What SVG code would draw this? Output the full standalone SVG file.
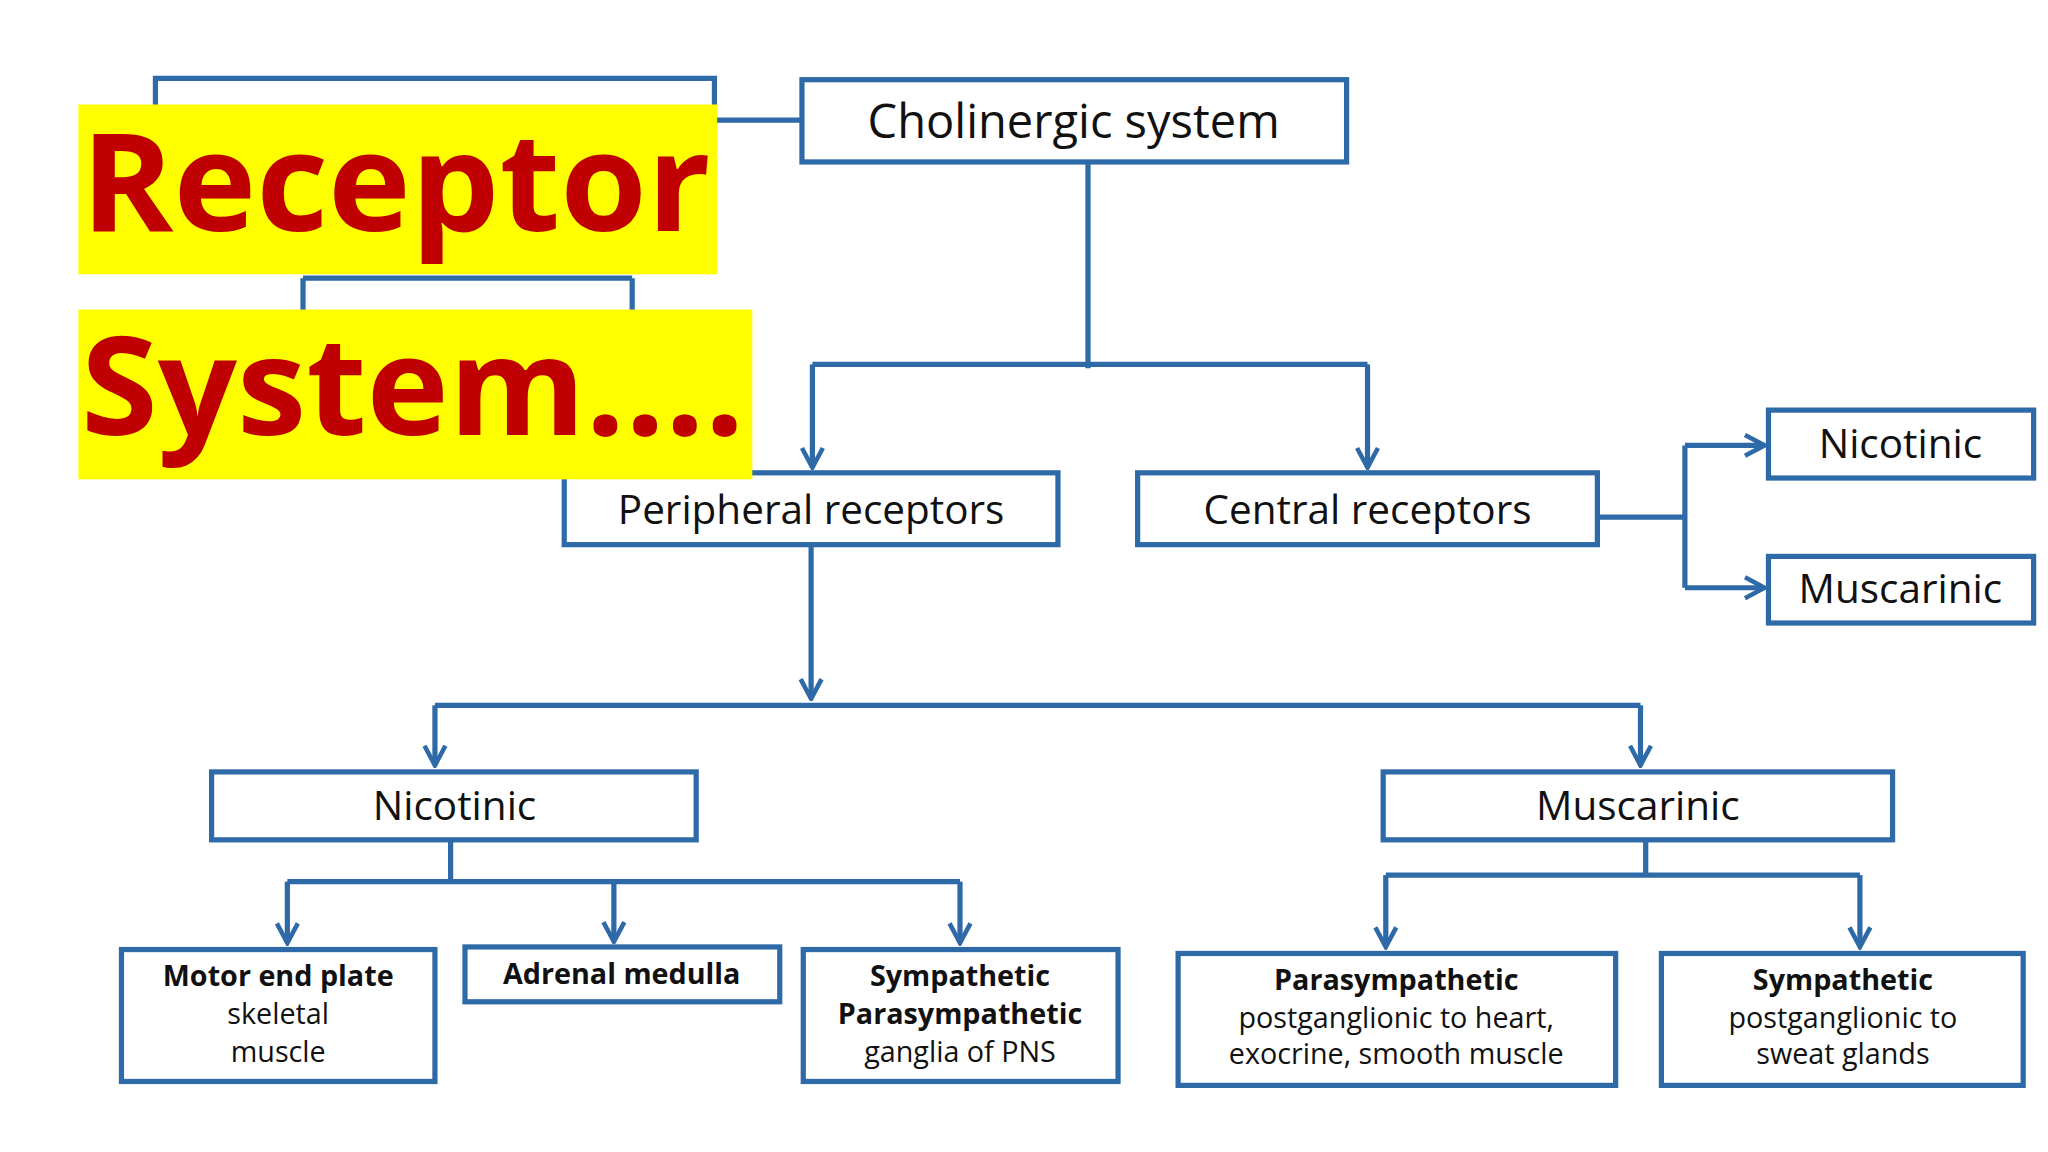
<svg xmlns="http://www.w3.org/2000/svg" width="2048" height="1152" viewBox="0 0 2048 1152">
<defs>
<style>
.b{fill:#fff;stroke:#2f6aa8;stroke-width:4}
.c{fill:none;stroke:#2f6aa8;stroke-width:4}
.t{font-family:"Open Sans","Liberation Sans",sans-serif;fill:#111;text-anchor:middle}
.l{font-size:36px}.m{font-size:31px}.s{font-size:22px}.bd{font-weight:bold}
.ti{font-family:"Open Sans","Noto Sans",sans-serif;font-weight:bold;font-size:104px;fill:#c00000}
</style>
<marker id="a" viewBox="0 0 20 20" refX="18" refY="10" markerWidth="20" markerHeight="20" markerUnits="userSpaceOnUse" orient="auto"><path d="M3,2 L18,10 L3,18" fill="none" stroke="#2f6aa8" stroke-width="3.5"/></marker>
</defs>
<rect width="2048" height="1152" fill="#fff"/>
<g transform="scale(1.30612)">
<g id="connectors">
<path class="c" d="M547,92H614"/>
<path class="c" d="M232,213H484M232,213V238M484,213V238"/>
<path class="c" d="M833,124V282M622,279H1047"/>
<path class="c" d="M622,279V358" marker-end="url(#a)"/>
<path class="c" d="M1047,279V358" marker-end="url(#a)"/>
<path class="c" d="M1223,396H1290M1290,341V450"/>
<path class="c" d="M1290,341H1351" marker-end="url(#a)"/>
<path class="c" d="M1290,450H1351" marker-end="url(#a)"/>
<path class="c" d="M621,417V535" marker-end="url(#a)"/>
<path class="c" d="M333,540H1256"/>
<path class="c" d="M333,540V586" marker-end="url(#a)"/>
<path class="c" d="M1256,540V586" marker-end="url(#a)"/>
<path class="c" d="M345,643V675M220,675H735"/>
<path class="c" d="M220,675V722" marker-end="url(#a)"/>
<path class="c" d="M470,675V721" marker-end="url(#a)"/>
<path class="c" d="M735,675V722" marker-end="url(#a)"/>
<path class="c" d="M1260,643V670M1061,670H1424"/>
<path class="c" d="M1061,670V725" marker-end="url(#a)"/>
<path class="c" d="M1424,670V725" marker-end="url(#a)"/>
</g>
<g id="adrenergic"><rect class="b" x="119" y="60" width="428" height="66"/></g>
<g id="cholinergic"><rect class="b" x="614" y="61" width="417" height="63"/><text class="t l" x="822" y="106">Cholinergic system</text></g>
<g id="peripheral"><rect class="b" x="432" y="362" width="378" height="55"/><text class="t m" x="621" y="401">Peripheral receptors</text></g>
<g id="central"><rect class="b" x="871" y="362" width="352" height="55"/><text class="t m" x="1047" y="401">Central receptors</text></g>
<g id="cnic"><rect class="b" x="1354" y="314" width="203" height="52"/><text class="t m" x="1455" y="351">Nicotinic</text></g>
<g id="cmus"><rect class="b" x="1354" y="426" width="203" height="51"/><text class="t m" x="1455" y="462">Muscarinic</text></g>
<g id="pnic"><rect class="b" x="162" y="591" width="371" height="52"/><text class="t m" x="348" y="628">Nicotinic</text></g>
<g id="pmus"><rect class="b" x="1059" y="591" width="390" height="52"/><text class="t m" x="1254" y="628">Muscarinic</text></g>
<g id="motor"><rect class="b" x="93" y="727" width="240" height="101"/>
<text class="t s bd" x="213" y="755">Motor end plate</text><text class="t s" x="213" y="784">skeletal</text><text class="t s" x="213" y="813">muscle</text></g>
<g id="adrenal"><rect class="b" x="356" y="725" width="241" height="42"/><text class="t s bd" x="476" y="753">Adrenal medulla</text></g>
<g id="ganglia"><rect class="b" x="615" y="727" width="241" height="101"/>
<text class="t s bd" x="735" y="755">Sympathetic</text><text class="t s bd" x="735" y="784">Parasympathetic</text><text class="t s" x="735" y="813">ganglia of PNS</text></g>
<g id="para"><rect class="b" x="902" y="730" width="335" height="101"/>
<text class="t s bd" x="1069" y="758">Parasympathetic</text><text class="t s" x="1069" y="787">postganglionic to heart,</text><text class="t s" x="1069" y="815">exocrine, smooth muscle</text></g>
<g id="symp"><rect class="b" x="1272" y="730" width="277" height="101"/>
<text class="t s bd" x="1411" y="758">Sympathetic</text><text class="t s" x="1411" y="787">postganglionic to</text><text class="t s" x="1411" y="815">sweat glands</text></g>
<g id="title">
<rect x="60" y="80" width="489" height="130" fill="#ffff00"/>
<rect x="60" y="237" width="516" height="130" fill="#ffff00"/>
<text class="ti" x="62" y="177" textLength="482" lengthAdjust="spacingAndGlyphs">Receptor</text>
<text class="ti" x="62" y="333" textLength="508" lengthAdjust="spacingAndGlyphs">System....</text>
</g>
</g>
</svg>
